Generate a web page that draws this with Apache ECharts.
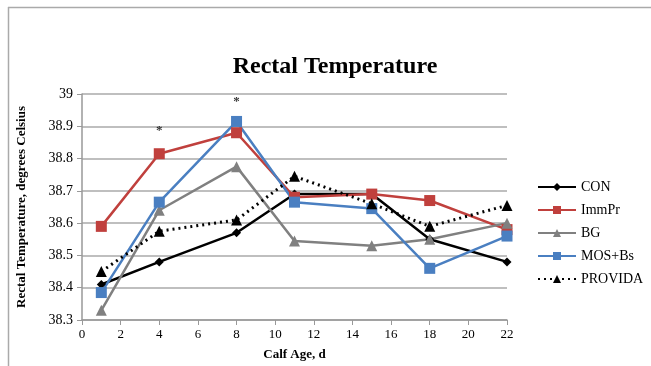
<!DOCTYPE html>
<html>
<head>
<meta charset="utf-8">
<script src="https://cdn.jsdelivr.net/npm/echarts@6/dist/echarts.min.js"></script>
<style>
  html, body { margin: 0; padding: 0; background: #fff; }
  #main { width: 651px; height: 366px; }
</style>
</head>
<body>
<div id="main"></div>
<script>
var days = [1, 4, 8, 11, 15, 18, 22];
var con = [38.41, 38.48, 38.57, 38.69, 38.69, 38.55, 38.48];
var immpr = [38.59, 38.815, 38.88, 38.68, 38.69, 38.67, 38.58];
var bg = [38.33, 38.64, 38.775, 38.545, 38.53, 38.55, 38.60];
var mosbs = [38.385, 38.665, 38.915, 38.665, 38.645, 38.46, 38.56];
var provida = [38.45, 38.575, 38.61, 38.745, 38.66, 38.59, 38.655];
var stars = [[4, 38.885], [8, 38.975]];

var font = 'Liberation Serif';
function pairs(vals) {
    return days.map(function (d, i) { return [d, vals[i]]; });
}
function line(name, vals, color, symbol, size, dotted) {
    return {
        name: name,
        type: 'line',
        data: pairs(vals),
        symbol: symbol,
        symbolSize: size,
        itemStyle: { color: color },
        lineStyle: { color: color, width: dotted ? 3 : 2.5, type: dotted ? [2, 4] : 'solid' },
        z: 3
    };
}

var myChart = echarts.init(document.getElementById('main'));
var option = {
    animation: false,
    backgroundColor: '#fff',
    title: {
        text: 'Rectal Temperature',
        left: 330,
        textAlign: 'center',
        top: 50,
        textStyle: { fontFamily: font, fontWeight: 'bold', fontSize: 24, color: '#000' }
    },
    graphic: [
        { type: 'line', shape: { x1: 8, y1: 7.5, x2: 651, y2: 7.5 }, style: { stroke: '#aaa', lineWidth: 1.5 } },
        { type: 'line', shape: { x1: 8.5, y1: 7, x2: 8.5, y2: 366 }, style: { stroke: '#aaa', lineWidth: 1.5 } }
    ],
    legend: {
        orient: 'vertical',
        left: 532,
        top: 175,
        itemGap: 9,
        itemWidth: 38,
        itemHeight: 10,
        data: ['CON', 'ImmPr', 'BG', 'MOS+Bs', 'PROVIDA'],
        textStyle: { fontFamily: font, fontSize: 14, color: '#000' }
    },
    grid: { left: 82, right: 144, top: 94, bottom: 46 },
    xAxis: {
        type: 'value',
        min: 0,
        max: 22,
        interval: 2,
        name: 'Calf Age, d',
        nameLocation: 'middle',
        nameGap: 28,
        nameTextStyle: { fontFamily: font, fontWeight: 'bold', fontSize: 13, color: '#000' },
        axisLine: { lineStyle: { color: '#999', width: 1.5 } },
        axisTick: { show: true, length: 5, lineStyle: { color: '#999' } },
        axisLabel: { fontFamily: font, fontSize: 13, color: '#000', margin: 8 },
        splitLine: { show: false }
    },
    yAxis: {
        type: 'value',
        min: 38.3,
        max: 39,
        interval: 0.1,
        name: 'Rectal Temperature, degrees Celsius',
        nameLocation: 'middle',
        nameRotate: 90,
        nameGap: 54,
        nameTextStyle: { fontFamily: font, fontWeight: 'bold', fontSize: 13, color: '#000' },
        axisLine: { show: true, lineStyle: { color: '#999', width: 1.5 } },
        axisTick: { show: true, length: 5, lineStyle: { color: '#999' } },
        axisLabel: {
            fontFamily: font, fontSize: 14, color: '#000', margin: 9,
            formatter: function (v) { return +v.toFixed(1) + ''; }
        },
        splitLine: { lineStyle: { color: '#aaa', width: 1.5 } }
    },
    series: [
        line('CON', con, '#000000', 'diamond', 9, false),
        line('ImmPr', immpr, '#c0403d', 'rect', 11, false),
        line('BG', bg, '#808080', 'triangle', 11, false),
        line('MOS+Bs', mosbs, '#4a7fc1', 'rect', 11, false),
        line('PROVIDA', provida, '#000000', 'triangle', 11, true),
        {
            name: 'sig',
            type: 'scatter',
            data: stars,
            symbolSize: 0,
            label: {
                show: true,
                position: 'inside',
                formatter: '*',
                fontFamily: font,
                fontWeight: 'bold',
                fontSize: 13,
                color: '#000'
            },
            silent: true
        }
    ]
};
myChart.setOption(option);
</script>
</body>
</html>
